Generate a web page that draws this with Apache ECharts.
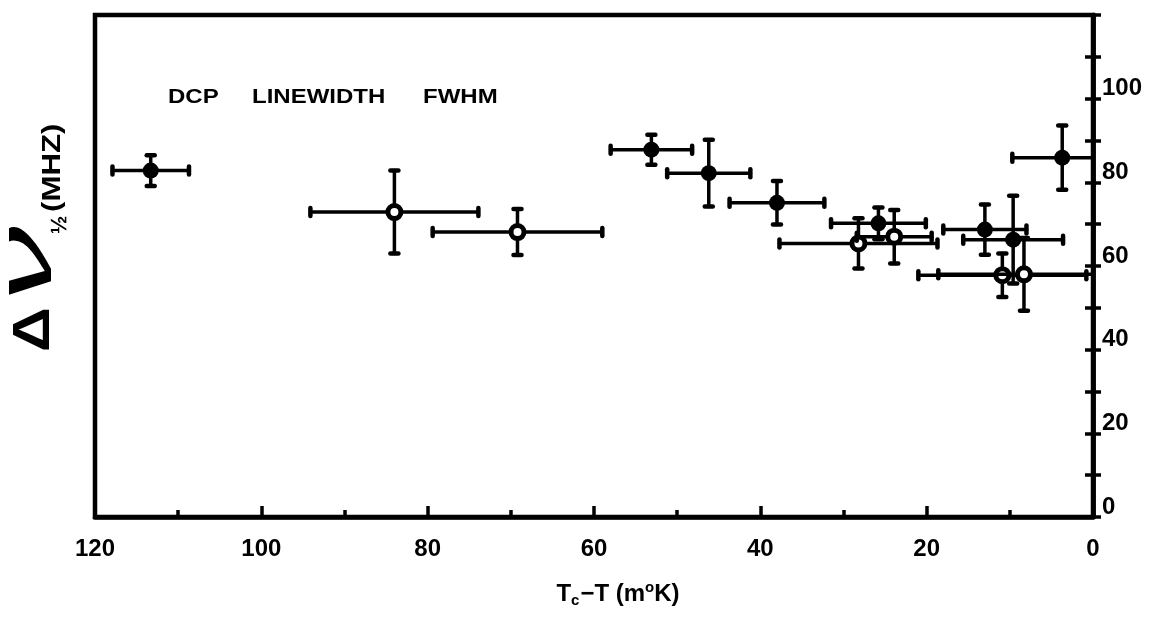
<!DOCTYPE html>
<html>
<head>
<meta charset="utf-8">
<script src="https://cdn.jsdelivr.net/npm/echarts@6/dist/echarts.min.js"></script>
<style>
  html, body { margin: 0; padding: 0; background: #fff; }
  #chart { width: 1150px; height: 618px; }
</style>
</head>
<body>
<div id="chart"></div>
<script>
// Tc - T (mK) and linewidth (MHz), with half-widths of the error bars
const filledX    = [113.3, 53.1, 46.2, 38.0, 25.8, 13.0, 9.6, 3.7];
const filledY    = [82.8, 87.8, 82.2, 75.1, 70.2, 68.7, 66.3, 85.9];
const filledXErr = [4.6, 4.9, 5.0, 5.7, 5.7, 5.0, 6.0, 6.0];
const filledYErr = [3.7, 3.6, 8.0, 5.2, 3.8, 6.0, 10.5, 7.7];

const openX    = [84.0, 69.2, 28.2, 23.9, 10.9, 8.3];
const openY    = [72.9, 68.1, 65.4, 67.0, 57.8, 58.0];
const openXErr = [10.1, 10.2, 9.5, 4.5, 10.1, 10.3];
const openYErr = [9.9, 5.5, 6.0, 6.4, 5.2, 8.7];

const xTicks = [0, 20, 40, 60, 80, 100, 120];
const yTicks = [0, 20, 40, 60, 80, 100];

const FONT = '"Liberation Sans", Arial, sans-serif';

function toRows(xs, ys, exs, eys) {
  return xs.map((x, i) => [x, ys[i], exs[i], eys[i]]);
}

function makeRenderer(hollow) {
  return function (params, api) {
    const x = api.value(0), y = api.value(1), ex = api.value(2), ey = api.value(3);
    const c = api.coord([x, y]);
    const l = api.coord([x + ex, y]);
    const r = api.coord([x - ex, y]);
    const t = api.coord([x, y + ey]);
    const b = api.coord([x, y - ey]);
    const cs = params.coordSys;
    const line = { stroke: '#000', lineWidth: 3.5, lineCap: 'round' };
    const cap = { stroke: '#000', lineWidth: 4.5, lineCap: 'round' };
    const h = 4;
    return {
      type: 'group',
      children: [
        {
          type: 'group',
          clipPath: { type: 'rect', shape: { x: cs.x, y: cs.y, width: cs.width, height: cs.height } },
          children: [
            { type: 'line', shape: { x1: l[0], y1: l[1], x2: r[0], y2: r[1] }, style: line },
            { type: 'line', shape: { x1: t[0], y1: t[1], x2: b[0], y2: b[1] }, style: line },
            { type: 'line', shape: { x1: l[0], y1: l[1] - h, x2: l[0], y2: l[1] + h }, style: cap },
            { type: 'line', shape: { x1: r[0], y1: r[1] - h, x2: r[0], y2: r[1] + h }, style: cap },
            { type: 'line', shape: { x1: t[0] - h, y1: t[1], x2: t[0] + h, y2: t[1] }, style: cap },
            { type: 'line', shape: { x1: b[0] - h, y1: b[1], x2: b[0] + h, y2: b[1] }, style: cap }
          ]
        },
        hollow
          ? { type: 'circle', shape: { cx: c[0], cy: c[1], r: 6.5 }, style: { fill: '#fff', stroke: '#000', lineWidth: 5 } }
          : { type: 'circle', shape: { cx: c[0], cy: c[1], r: 8 }, style: { fill: '#000' } }
      ]
    };
  };
}

// text element whose glyph baseline sits at local y = base
function glyph(str, size, x, base, extra, fontStyle) {
  return Object.assign({
    type: 'text', x: x, y: base - 0.35 * size,
    style: {
      text: str, font: (fontStyle || 'bold') + ' ' + size + 'px ' + FONT,
      fill: '#000', align: 'left', verticalAlign: 'middle'
    }
  }, extra || {});
}

const chart = echarts.init(document.getElementById('chart'), null, { renderer: 'canvas' });

const tickStyle = { show: true, inside: true, lineStyle: { color: '#000', width: 3.5 } };

chart.setOption({
  animation: false,
  backgroundColor: '#fff',
  grid: {
    left: 95, right: 57, top: 15, bottom: 101,
    show: true, borderColor: '#000', borderWidth: 4.5
  },
  xAxis: {
    type: 'value', min: 0, max: 120, interval: 20, inverse: true,
    axisLine: { show: true, lineStyle: { color: '#000', width: 4.5 } },
    axisTick: Object.assign({}, tickStyle, { length: 11 }),
    minorTick: { show: true, splitNumber: 2, length: 7, lineStyle: { color: '#000', width: 3.5 } },
    splitLine: { show: false },
    minorSplitLine: { show: false },
    axisLabel: {
      margin: 20, color: '#000', fontFamily: FONT, fontWeight: 'bold', fontSize: 24,
      formatter: v => xTicks.includes(v) ? String(v) : ''
    }
  },
  yAxis: [
    {
      type: 'value', position: 'left', min: 0, max: 120, interval: 10,
      axisLine: { show: true, lineStyle: { color: '#000', width: 4.5 } },
      axisTick: Object.assign({}, tickStyle, { length: 8 }),
      splitLine: { show: false },
      axisLabel: { show: false }
    },
    {
      type: 'value', position: 'right', min: 0, max: 120, interval: 20,
      axisLine: { show: true, lineStyle: { color: '#000', width: 4.5 } },
      axisTick: Object.assign({}, tickStyle, { length: 8 }),
      minorTick: { show: true, splitNumber: 2, length: 8, lineStyle: { color: '#000', width: 3.5 } },
      splitLine: { show: false },
      minorSplitLine: { show: false },
      axisLabel: {
        margin: 9, color: '#000', fontFamily: FONT, fontWeight: 'bold', fontSize: 24,
        verticalAlign: 'bottom', lineHeight: 20,
        formatter: v => yTicks.includes(v) ? String(v) : ''
      }
    }
  ],
  graphic: [
    {
      type: 'text', x: 168, y: 97, scaleY: 0.85,
      style: { text: 'DCP', font: 'bold 24px ' + FONT, fill: '#000', verticalAlign: 'middle' }
    },
    {
      type: 'text', x: 252, y: 97, scaleY: 0.85,
      style: { text: 'LINEWIDTH', font: 'bold 24px ' + FONT, fill: '#000', verticalAlign: 'middle' }
    },
    {
      type: 'text', x: 423, y: 97, scaleY: 0.85,
      style: { text: 'FWHM', font: 'bold 24px ' + FONT, fill: '#000', verticalAlign: 'middle' }
    },
    {
      type: 'text', x: 618, y: 594,
      style: {
        text: '{a|T}{s|c}{a|−T (m}{o|o}{a|K)}',
        align: 'center', verticalAlign: 'middle',
        rich: {
          a: { font: 'bold 24px ' + FONT, fill: '#000', verticalAlign: 'middle' },
          s: { font: 'bold 15px ' + FONT, fill: '#000', padding: [14, 1, 0, 0], verticalAlign: 'middle' },
          o: { font: 'bold 15px ' + FONT, fill: '#000', padding: [0, 0, 12, 0], verticalAlign: 'middle' }
        }
      }
    },
    {
      // vertical axis title, reading upward: Δν½ (MHZ)
      type: 'group', x: 57, y: 352, rotation: Math.PI / 2,
      children: [
        glyph('Δ', 52, 0, -4, { scaleX: 1.2 }),
        glyph('ν', 80, 50, 0, { scaleX: 1.9 }, 'italic'),
        glyph('½', 22, 118, 11),
        glyph('(MHZ)', 26, 140, 5, { scaleX: 1.2 })
      ]
    }
  ],
  series: [
    {
      name: 'filled', type: 'custom', xAxisIndex: 0, yAxisIndex: 0,
      renderItem: makeRenderer(false),
      encode: { x: 0, y: 1 },
      data: toRows(filledX, filledY, filledXErr, filledYErr),
      z: 3
    },
    {
      name: 'open', type: 'custom', xAxisIndex: 0, yAxisIndex: 0,
      renderItem: makeRenderer(true),
      encode: { x: 0, y: 1 },
      data: toRows(openX, openY, openXErr, openYErr),
      z: 4
    }
  ]
});
</script>
</body>
</html>
